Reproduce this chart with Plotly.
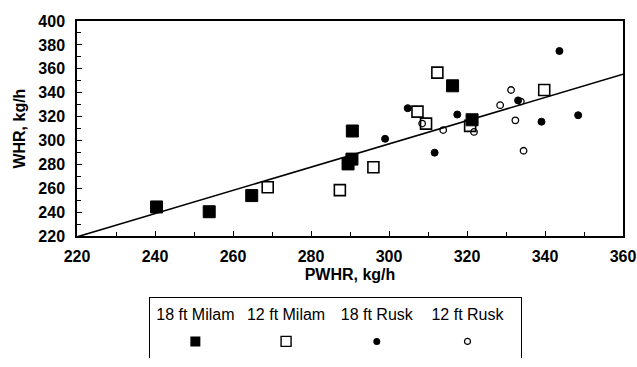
import plotly.graph_objects as go

# ---- data ----
milam18_x = [240.4, 253.9, 264.8, 289.5, 290.5, 290.6, 316.3, 321.3]
milam18_y = [244.5, 240.5, 254.0, 280.5, 284.5, 308.0, 345.8, 317.4]

milam12_x = [268.9, 287.4, 296.0, 307.3, 309.5, 312.4, 320.8, 339.8]
milam12_y = [261.0, 258.6, 277.7, 324.2, 314.2, 356.8, 312.3, 342.3]

rusk18_x = [299.0, 304.8, 311.7, 317.5, 333.1, 339.1, 343.7, 348.5]
rusk18_y = [301.5, 327.1, 289.9, 321.8, 333.6, 315.8, 374.9, 321.2]

rusk12_x = [308.5, 313.9, 321.8, 328.5, 331.3, 332.4, 333.8, 334.5]
rusk12_y = [314.2, 308.8, 307.2, 329.6, 342.3, 316.9, 332.6, 291.5]

fit_x = [220, 360]
fit_y = [219.5, 355.5]

series_names = ["18 ft Milam", "12 ft Milam", "18 ft Rusk", "12 ft Rusk"]
x_ticks = [220, 240, 260, 280, 300, 320, 340, 360]
y_ticks = [220, 240, 260, 280, 300, 320, 340, 360, 380, 400]

FONT = "Liberation Sans, Arial, sans-serif"

styles = [
    dict(symbol="square", size=12, color="black", line=dict(color="black", width=1)),
    dict(symbol="square-open", size=11, color="black", line=dict(color="black", width=1.6)),
    dict(symbol="circle", size=7, color="black", line=dict(color="black", width=1)),
    dict(symbol="circle-open", size=6.5, color="black", line=dict(color="black", width=1.3)),
]
legend_styles = [
    dict(symbol="square", size=10, color="black"),
    dict(symbol="square-open", size=10, color="black", line=dict(color="black", width=1.4)),
    dict(symbol="circle", size=7, color="black"),
    dict(symbol="circle-open", size=6, color="black", line=dict(color="black", width=1.2)),
]

fig = go.Figure()

fig.add_trace(go.Scatter(x=fit_x, y=fit_y, mode="lines",
                         line=dict(color="black", width=1.6), hoverinfo="skip"))

for name, xs, ys, st in zip(series_names,
                            [milam18_x, milam12_x, rusk18_x, rusk12_x],
                            [milam18_y, milam12_y, rusk18_y, rusk12_y],
                            styles):
    fig.add_trace(go.Scatter(x=xs, y=ys, mode="markers", name=name, marker=st))

# legend drawn as a small categorical panel: names above symbols
for name, st in zip(series_names, legend_styles):
    fig.add_trace(go.Scatter(x=[name], y=[0], mode="markers", marker=st,
                             xaxis="x2", yaxis="y2", hoverinfo="skip"))

TICKFONT = dict(family=FONT, size=16, color="black", weight="bold")

axis_common = dict(
    showgrid=False, zeroline=False, showline=True, linecolor="black", linewidth=1.5,
    mirror=True, ticks="inside", ticklen=5, tickwidth=1, tickcolor="black",
    tickfont=TICKFONT,
    minor=dict(ticks="inside", ticklen=4, tickwidth=1, tickcolor="black", dtick=10),
)

fig.update_layout(
    width=637, height=367,
    margin=dict(l=77, r=14, t=21, b=0),
    paper_bgcolor="white", plot_bgcolor="white",
    showlegend=False,
    font=dict(family=FONT, color="black"),
    xaxis=dict(axis_common, domain=[0, 1], anchor="y", range=[220, 360],
               tickvals=x_ticks, ticklabelstandoff=5,
               title=dict(text="<b>PWHR, kg/h</b>",
                          font=dict(family=FONT, size=16, color="black"),
                          standoff=5)),
    yaxis=dict(axis_common, domain=[0.3613, 1], anchor="x", range=[220, 400],
               tickvals=y_ticks, ticklabelstandoff=7,
               title=dict(text="<b>WHR, kg/h</b>",
                          font=dict(family=FONT, size=16, color="black"),
                          standoff=9)),
    xaxis2=dict(domain=[0.1337, 0.8132], anchor="y2", side="top", type="category",
                categoryorder="array", categoryarray=series_names,
                range=[-0.5, 3.59], showgrid=False, zeroline=False,
                showline=True, linecolor="black", linewidth=1.2,
                ticks="", ticklabelposition="inside", ticklabelstandoff=11,
                tickfont=dict(family=FONT, size=16, color="black")),
    yaxis2=dict(domain=[0, 0.179], anchor="x2", range=[-0.38, 1],
                showgrid=False, zeroline=False, showticklabels=False, ticks="",
                showline=True, linecolor="black", linewidth=1.2, mirror=True),
)

fig.write_html(
    "out.html",
    config={"displayModeBar": False},
    post_script="document.body.style.margin='0';document.body.style.overflow='hidden';",
)
